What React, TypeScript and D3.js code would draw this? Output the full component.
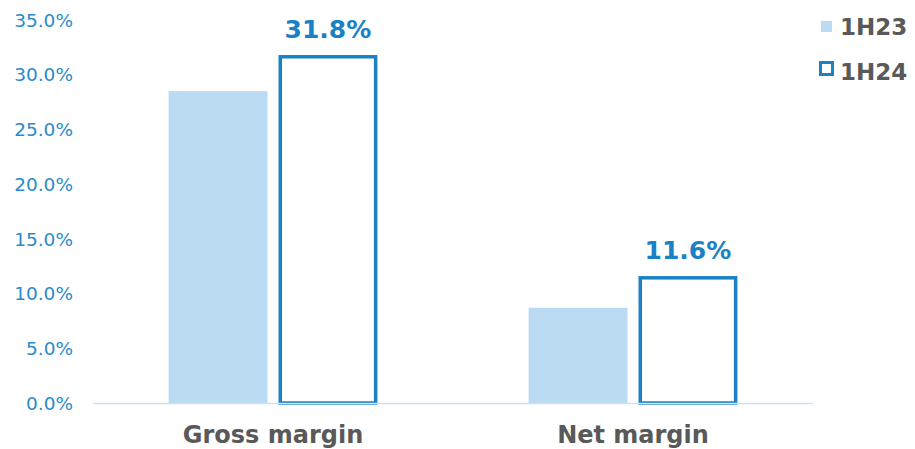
import React from "react";
import * as d3 from "d3";

const categories = ["Gross margin", "Net margin"];
const seriesNames = ["1H23", "1H24"];
const values1H23 = [28.5, 8.7];
const values1H24 = [31.8, 11.6];
const yTicks = [0, 5, 10, 15, 20, 25, 30, 35];

const W = 915;
const H = 449;
const LIGHT = "#BBDBF2";
const DARK = "#1A82C4";
const AXIS_TXT = "#2A8ACB";
const GRAY = "#595959";
const FONT = "'DejaVu Sans', Verdana, sans-serif";

export default function App() {
  const left = 93, right = 813, top = 20, bottom = 403;
  const x = d3.scaleBand<string>().domain(categories).range([left, right]).paddingInner(0.42).paddingOuter(0.21);
  const xs = d3.scaleBand<string>().domain(seriesNames).range([0, x.bandwidth()]).paddingInner(0.1);
  const y = d3.scaleLinear().domain([0, 35]).range([bottom, top]);
  const sw = 3.5;

  return (
    <svg width={W} height={H} style={{ position: "absolute", left: 0, top: 0 }} fontFamily={FONT}>
      <rect width={W} height={H} fill="#fff" />
      {yTicks.map((t) => (
        <text key={t} x={73} y={y(t)} dy="0.36em" textAnchor="end" fontSize={18.5} fill={AXIS_TXT}>
          {t.toFixed(1)}%
        </text>
      ))}
      {categories.map((c, i) => {
        const x0 = x(c)!;
        const b1 = x0 + xs("1H23")!;
        const b2 = x0 + xs("1H24")!;
        const bw = xs.bandwidth();
        return (
          <g key={c}>
            <rect x={b1} y={y(values1H23[i])} width={bw} height={bottom - y(values1H23[i])} fill={LIGHT} />
            <rect
              x={b2 + sw / 2}
              y={y(values1H24[i]) + sw / 2}
              width={bw - sw}
              height={bottom - y(values1H24[i]) - sw / 2}
              fill="#fff"
              stroke={DARK}
              strokeWidth={sw}
            />
            <text x={b2 + bw / 2} y={y(values1H24[i]) - 17} textAnchor="middle" fontSize={25} fontWeight="bold" fill={DARK}>
              {values1H24[i].toFixed(1)}%
            </text>
            <text x={x0 + x.bandwidth() / 2} y={443} textAnchor="middle" fontSize={24} fontWeight="bold" fill={GRAY}>
              {c}
            </text>
          </g>
        );
      })}
      <line x1={left} x2={right} y1={bottom + 0.5} y2={bottom + 0.5} stroke="#C9E1F3" strokeWidth={1.5} />
      <rect x={821} y={21} width={11} height={11} fill={LIGHT} />
      <text x={840} y={35} fontSize={23} fontWeight="bold" fill={GRAY}>1H23</text>
      <rect x={820.5} y={62.5} width={12} height={12} fill="#fff" stroke={DARK} strokeWidth={3} />
      <text x={840} y={80} fontSize={23} fontWeight="bold" fill={GRAY}>1H24</text>
    </svg>
  );
}
